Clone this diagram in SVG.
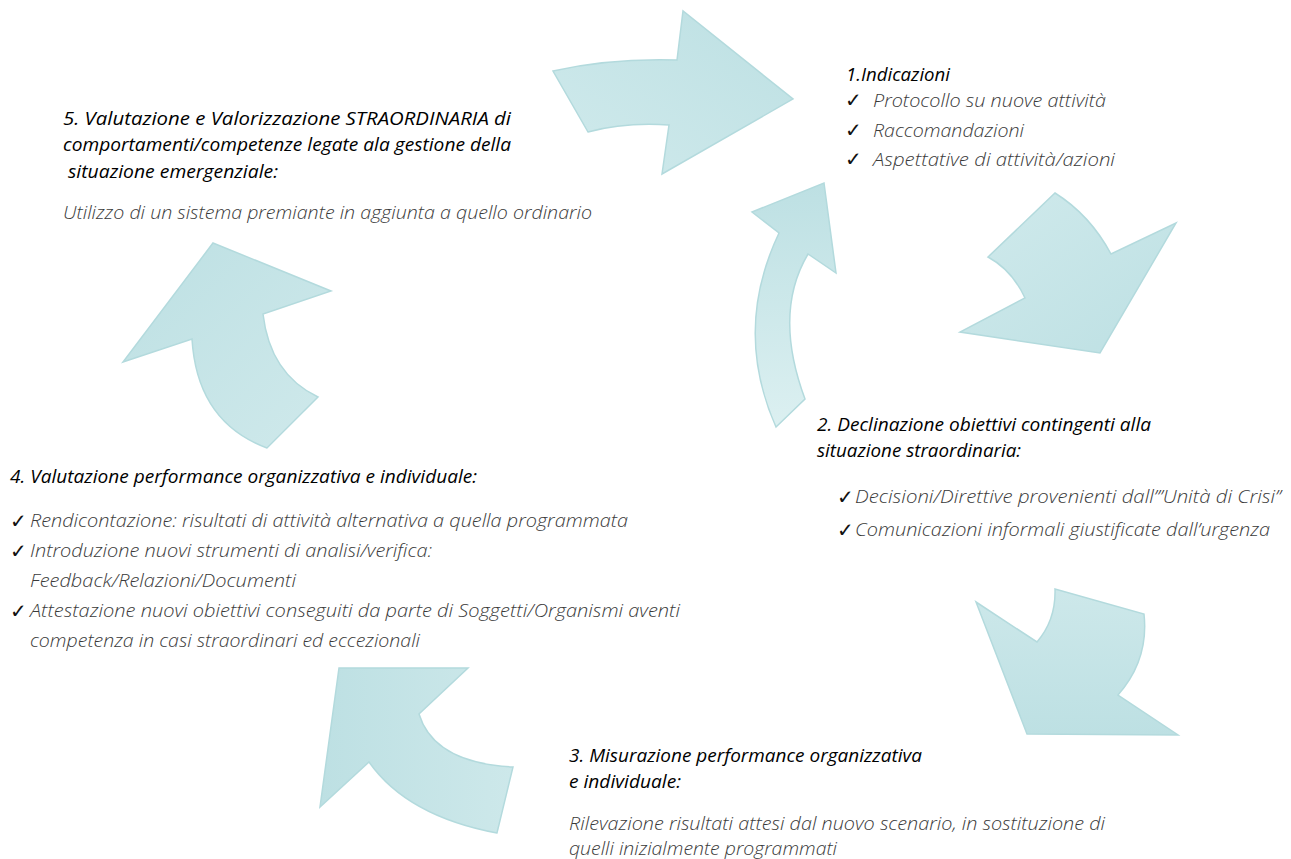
<svg xmlns="http://www.w3.org/2000/svg" width="1291" height="859" viewBox="0 0 1291 859">
<style>
.arr{stroke:#b3dadd;stroke-width:1.5;stroke-linejoin:miter}
.h{font-family:"Open Sans","Noto Sans","Liberation Sans",sans-serif;font-style:italic;font-size:18px;fill:#000}
.b{font-family:"Open Sans","Noto Sans","Liberation Sans",sans-serif;font-style:italic;font-weight:300;font-size:17.5px;fill:#3a3a3a}
.ck{font-family:"DejaVu Sans",sans-serif;font-size:20px;fill:#111}
</style>
<defs>
<linearGradient id="g1" x1="0" y1="1" x2="1" y2="0"><stop offset="0" stop-color="#d0eaec"/><stop offset="1" stop-color="#bde0e3"/></linearGradient>
<linearGradient id="g2" x1="0" y1="0" x2="1" y2="1"><stop offset="0" stop-color="#d0eaec"/><stop offset="1" stop-color="#bde0e3"/></linearGradient>
<linearGradient id="gs" x1="0" y1="0" x2="0" y2="1"><stop offset="0" stop-color="#bde0e3"/><stop offset="1" stop-color="#dcf0f1"/></linearGradient>
<linearGradient id="g3" x1="0" y1="0" x2="0" y2="1"><stop offset="0" stop-color="#cde8ea"/><stop offset="1" stop-color="#bde0e3"/></linearGradient>
<linearGradient id="g4" x1="0" y1="0" x2="1" y2="0"><stop offset="0" stop-color="#bde0e3"/><stop offset="1" stop-color="#cde8ea"/></linearGradient>
<linearGradient id="g5" x1="0" y1="0" x2="1" y2="1"><stop offset="0" stop-color="#bde0e3"/><stop offset="1" stop-color="#cfe9eb"/></linearGradient>
</defs>
<g id="connectors">
<path class="arr" fill="url(#g1)" d="M553,71 Q610,58 677,60 L683,11 L793,99 L662,174 L669,125 Q625,122 588,132 Z"/>
<path class="arr" fill="url(#g2)" d="M1055,193 Q1090,215 1111,254 L1176,223 L1100,353 L960,332 L1025,298 Q1012,270 988,257 Z"/>
<path class="arr" fill="url(#gs)" d="M776,427 Q733,330 779,233 L752,212 L824,183 L836,273 L808,254 Q773,313 805,399 Z"/>
<path class="arr" fill="url(#g3)" d="M976,602 L1037,642 Q1056,620 1055,589 L1144,614 Q1149,660 1118,695 L1178,735 L1027,734 Z"/>
<path class="arr" fill="url(#g4)" d="M339,668 L468,668 L419,714 Q434,763 513,767 L497,833 Q407,816 369,762 L320,807 Z"/>
<path class="arr" fill="url(#g5)" d="M213,243 L331,291 L263,314 Q270,374 318,397 L267,448 Q197,422 192,339 L123,362 Z"/>
</g>
<g id="node1">
<text class="h" x="846" y="81" textLength="104" lengthAdjust="spacingAndGlyphs">1.Indicazioni</text>
<text class="ck" x="845" y="107">✓</text>
<text class="b" x="873" y="107" textLength="233" lengthAdjust="spacingAndGlyphs">Protocollo su nuove attività</text>
<text class="ck" x="845" y="137">✓</text>
<text class="b" x="873" y="137" textLength="151" lengthAdjust="spacingAndGlyphs">Raccomandazioni</text>
<text class="ck" x="845" y="166">✓</text>
<text class="b" x="873" y="166" textLength="242" lengthAdjust="spacingAndGlyphs">Aspettative di attività/azioni</text>
</g>
<g id="node2">
<text class="h" x="817" y="431" textLength="334" lengthAdjust="spacingAndGlyphs">2. Declinazione obiettivi contingenti alla</text>
<text class="h" x="817" y="457" textLength="204" lengthAdjust="spacingAndGlyphs">situazione straordinaria:</text>
<text class="ck" x="837" y="504">✓</text>
<text class="b" x="855" y="503" textLength="426" lengthAdjust="spacingAndGlyphs">Decisioni/Direttive provenienti dall’”Unità di Crisi”</text>
<text class="ck" x="837" y="537">✓</text>
<text class="b" x="855" y="536" textLength="415" lengthAdjust="spacingAndGlyphs">Comunicazioni informali giustificate dall’urgenza</text>
</g>
<g id="node3">
<text class="h" x="569" y="762" textLength="353" lengthAdjust="spacingAndGlyphs">3. Misurazione performance organizzativa</text>
<text class="h" x="569" y="788" textLength="112" lengthAdjust="spacingAndGlyphs">e individuale:</text>
<text class="b" x="569" y="830" textLength="536" lengthAdjust="spacingAndGlyphs">Rilevazione risultati attesi dal nuovo scenario, in sostituzione di</text>
<text class="b" x="569" y="855" textLength="268" lengthAdjust="spacingAndGlyphs">quelli inizialmente programmati</text>
</g>
<g id="node4">
<text class="h" x="10" y="483" textLength="467" lengthAdjust="spacingAndGlyphs">4. Valutazione performance organizzativa e individuale:</text>
<text class="ck" x="10" y="528">✓</text>
<text class="b" x="30" y="527" textLength="598" lengthAdjust="spacingAndGlyphs">Rendicontazione: risultati di attività alternativa a quella programmata</text>
<text class="ck" x="10" y="558">✓</text>
<text class="b" x="30" y="557" textLength="402" lengthAdjust="spacingAndGlyphs">Introduzione nuovi strumenti di analisi/verifica:</text>
<text class="b" x="30" y="587" textLength="266" lengthAdjust="spacingAndGlyphs">Feedback/Relazioni/Documenti</text>
<text class="ck" x="10" y="618">✓</text>
<text class="b" x="30" y="617" textLength="650" lengthAdjust="spacingAndGlyphs">Attestazione nuovi obiettivi conseguiti da parte di Soggetti/Organismi aventi</text>
<text class="b" x="30" y="647" textLength="390" lengthAdjust="spacingAndGlyphs">competenza in casi straordinari ed eccezionali</text>
</g>
<g id="node5">
<text class="h" x="63" y="125" textLength="448" lengthAdjust="spacingAndGlyphs">5. Valutazione e Valorizzazione STRAORDINARIA di</text>
<text class="h" x="63" y="151" textLength="448" lengthAdjust="spacingAndGlyphs">comportamenti/competenze legate ala gestione della</text>
<text class="h" x="68" y="178" textLength="210" lengthAdjust="spacingAndGlyphs">situazione emergenziale:</text>
<text class="b" x="63" y="219" textLength="529" lengthAdjust="spacingAndGlyphs">Utilizzo di un sistema premiante in aggiunta a quello ordinario</text>
</g>
</svg>
